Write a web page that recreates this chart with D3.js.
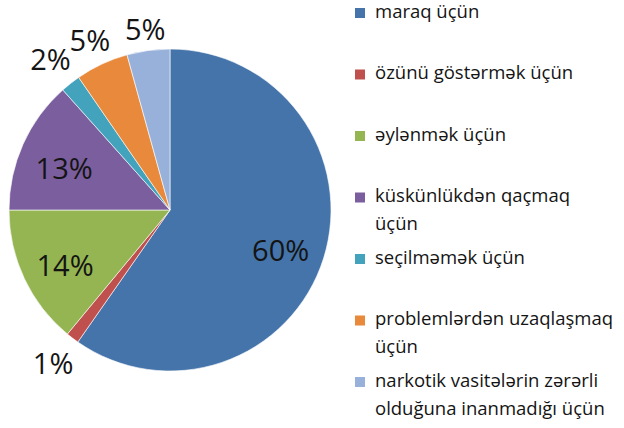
<!DOCTYPE html>
<html>
<head>
<meta charset="utf-8">
<script src="https://cdn.jsdelivr.net/npm/d3@7/dist/d3.min.js"></script>
<style>
  html, body { margin: 0; padding: 0; background: #fff; }
  svg { display: block; }
</style>
</head>
<body>
<svg id="chart" width="624" height="428"></svg>
<script>
const categories = [
  ["maraq üçün"],
  ["özünü göstərmək üçün"],
  ["əylənmək üçün"],
  ["küskünlükdən qaçmaq", "üçün"],
  ["seçilməmək üçün"],
  ["problemlərdən uzaqlaşmaq", "üçün"],
  ["narkotik vasitələrin zərərli", "olduğuna inanmadığı üçün"]
];
// slice sizes (labels are the rounded percentages)
const values = [59.7, 1.3, 14.0, 13.4, 2.0, 5.3, 4.3];
const labels = ["60%", "1%", "14%", "13%", "2%", "5%", "5%"];
const colors = ["#4574AA", "#C0504D", "#94B552", "#7B5E9E", "#43A3BC", "#E8893B", "#98B1DA"];

const svg = d3.select("#chart");
const cx = 170, cy = 210, r = 161;
const font = "'Open Sans', 'DejaVu Sans', sans-serif";

const pie = d3.pie().sort(null).value(d => d)(values);
const arc = d3.arc().innerRadius(0).outerRadius(r);
const inArc = d3.arc().innerRadius(116).outerRadius(116);
const outside = [false, true, false, false, true, true, true];

function labelPos(d, i) {
  if (!outside[i]) {
    const c = inArc.centroid(d);
    return [c[0], c[1] + 5];
  }
  const a = (d.startAngle + d.endAngle) / 2;
  const ux = Math.sin(a), uy = -Math.cos(a);
  const w = labels[i].length * 15, h = 28;
  const rr = r + 5 + 20 * Math.abs(ux);
  return [rr * ux + ux * w / 2, rr * uy + uy * h / 2];
}

const g = svg.append("g").attr("transform", `translate(${cx},${cy})`);
g.selectAll("path").data(pie).join("path")
  .attr("d", arc)
  .attr("fill", (d, i) => colors[i])
  .attr("stroke", "#fff")
  .attr("stroke-width", 0.6);

g.selectAll("text.lbl").data(pie).join("text")
  .attr("class", "lbl")
  .attr("transform", (d, i) => `translate(${labelPos(d, i)})`)
  .attr("text-anchor", "middle")
  .attr("dominant-baseline", "central")
  .attr("font-family", font)
  .attr("font-size", 29)
  .attr("fill", "#141414")
  .text((d, i) => labels[i]);

// legend
const ly = d3.scalePoint().domain(d3.range(categories.length)).range([13, 382]);
const leg = svg.append("g");
const items = leg.selectAll("g").data(categories).join("g")
  .attr("transform", (d, i) => `translate(355,${ly(i)})`);
items.append("rect")
  .attr("x", 0).attr("y", -5).attr("width", 10).attr("height", 10)
  .attr("fill", (d, i) => colors[i]);
items.each(function(lines) {
  const t = d3.select(this).append("text")
    .attr("font-family", font)
    .attr("font-size", 18.5)
    .attr("fill", "#141414");
  lines.forEach((ln, j) => {
    t.append("tspan").attr("x", 20).attr("y", 4.5 + j * 28).text(ln);
  });
});
</script>
</body>
</html>
